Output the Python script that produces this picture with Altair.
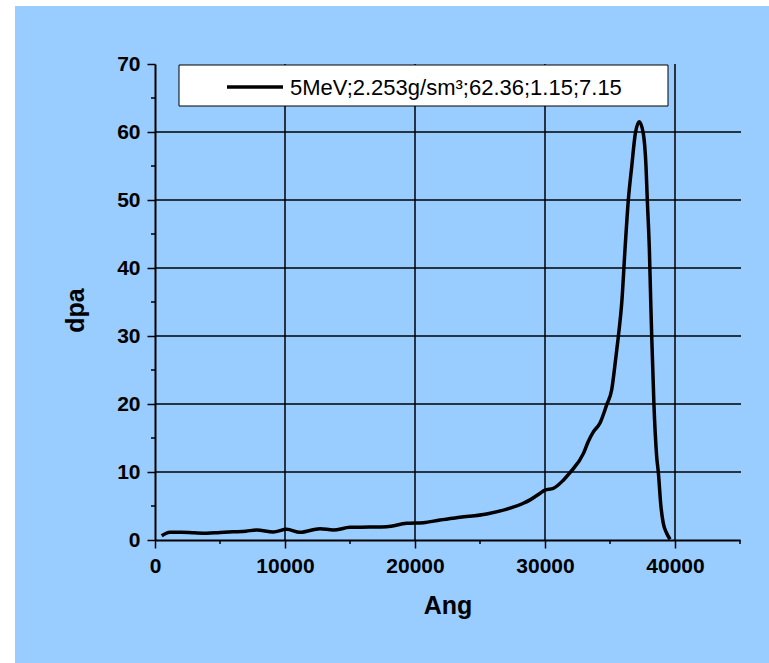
import altair as alt
import pandas as pd

# ---- data ----
depth_ang = [515, 1150, 2000, 3000, 3970, 5000, 6000, 7000, 7820, 9100, 10130, 11150,
             12690, 13720, 15000, 16500, 17820, 19360, 20640, 21920, 23460, 25510,
             27000, 28330, 28850, 29620, 30000, 30640, 31410, 31920, 32950, 33330,
             33720, 34230, 34750, 35130, 35460, 35640, 35920, 36150, 36410, 36670,
             36950, 37250, 37560, 37770, 37870, 38030, 38130, 38210, 38380, 38590,
             38720, 38920, 39100, 39360, 39620]
dpa = [0.63, 1.15, 1.15, 1.05, 0.98, 1.1, 1.2, 1.3, 1.47, 1.18, 1.57, 1.13,
       1.67, 1.47, 1.86, 1.9, 1.96, 2.45, 2.55, 2.94, 3.33, 3.82,
       4.5, 5.4, 5.9, 6.87, 7.35, 7.6, 8.8, 9.9, 12.7, 14.5,
       15.9, 17.2, 19.9, 22.1, 27.0, 29.9, 35.3, 42.6, 50.0, 54.9,
       59.8, 61.5, 59.8, 54.9, 50.0, 42.6, 35.3, 29.9, 19.9, 12.3,
       9.9, 4.9, 2.45, 1.0, 0.1]

legend_label = "5MeV;2.253g/sm³;62.36;1.15;7.15"

x_ticks = [0, 10000, 20000, 30000, 40000]
x_minor = [5000, 15000, 25000, 35000, 45000]
x_grid = [10000, 20000, 30000, 40000]
y_ticks = [0, 10, 20, 30, 40, 50, 60, 70]
y_minor = [5, 15, 25, 35, 45, 55, 65]
y_grid = [10, 20, 30, 40, 50, 60]

# ---- layout / style ----
W, H = 585, 476
BLUE = "#99CCFF"
FONT = "Liberation Sans"

X = alt.X("x:Q",
          scale=alt.Scale(domain=[0, 45000], nice=False, zero=False),
          axis=alt.Axis(values=x_ticks, format="d", grid=False, zindex=1,
                        title="Ang", titleFont=FONT, titleFontSize=25,
                        titleFontWeight="bold", titleColor="black",
                        titleY=73, titleBaseline="alphabetic",
                        labelFont=FONT, labelFontSize=21, labelFontWeight="bold",
                        labelColor="black", labelBaseline="alphabetic",
                        labelPadding=24, labelFlush=False, labelOverlap=False,
                        tickSize=8, tickWidth=1.5, tickColor="black",
                        domainColor="black", domainWidth=2))
Y = alt.Y("y:Q",
          scale=alt.Scale(domain=[0, 70], nice=False, zero=False),
          axis=alt.Axis(values=y_ticks, format="d", grid=False, zindex=1,
                        title="dpa", titleFont=FONT, titleFontSize=25,
                        titleFontWeight="bold", titleColor="black",
                        titleX=-80, titleY=246, titleAlign="center",
                        titleBaseline="middle", titleAngle=270,
                        labelFont=FONT, labelFontSize=21, labelFontWeight="bold",
                        labelColor="black", labelBaseline="middle",
                        labelPadding=7, labelFlush=False, labelOverlap=False,
                        tickSize=8, tickWidth=1.5, tickColor="black",
                        domainColor="black", domainWidth=2))

one = pd.DataFrame({"label": [legend_label]})

bg = alt.Chart(one).mark_rect(color=BLUE).encode(
    x=alt.value(-140), x2=alt.value(W + 29), y=alt.value(-58), y2=alt.value(H + 123))

hgrid = alt.Chart(pd.DataFrame({"y": y_grid})).mark_rule(
    color="black", strokeWidth=1.5).encode(y=Y, x=alt.value(0), x2=alt.value(W + 1))
vgrid = alt.Chart(pd.DataFrame({"x": x_grid})).mark_rule(
    color="black", strokeWidth=1.5).encode(x=X, y=alt.value(0), y2=alt.value(H))

xminor = alt.Chart(pd.DataFrame({"x": x_minor})).mark_rule(
    color="black", strokeWidth=1.5).encode(x=X, y=alt.value(H), y2=alt.value(H + 4))
yminor = alt.Chart(pd.DataFrame({"y": y_minor})).mark_rule(
    color="black", strokeWidth=1.5).encode(y=Y, x=alt.value(-4), x2=alt.value(0))

curve = alt.Chart(pd.DataFrame({"x": depth_ang, "y": dpa})).mark_line(
    color="black", strokeWidth=3.5, interpolate="monotone").encode(x=X, y=Y)

leg_box = alt.Chart(one).mark_rect(fill="white", stroke="black", strokeWidth=1).encode(
    x=alt.value(24), x2=alt.value(513), y=alt.value(1), y2=alt.value(42))
leg_line = alt.Chart(one).mark_rule(color="black", strokeWidth=3.5).encode(
    x=alt.value(72), x2=alt.value(128), y=alt.value(23))
leg_text = alt.Chart(one).mark_text(
    align="left", baseline="alphabetic", font=FONT, fontSize=22, color="black"
).encode(x=alt.value(135), y=alt.value(31), text="label:N")

chart = alt.layer(
    bg, hgrid, vgrid, xminor, yminor, curve, leg_box, leg_line, leg_text
).properties(
    width=W, height=H,
    padding={"left": 155, "top": 64, "right": 29, "bottom": 123},
    autosize=alt.AutoSizeParams(type="none"),
    background="white",
).configure_view(stroke=None)

chart.save("out.html", embed_options={"renderer": "svg", "actions": False})
